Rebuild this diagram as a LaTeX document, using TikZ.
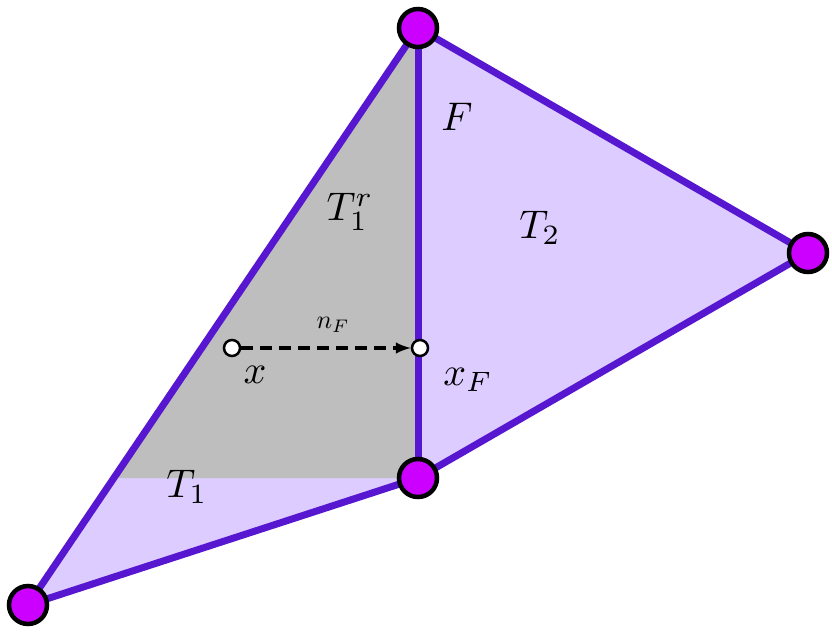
\documentclass[tikz,border=0pt]{standalone}
\begin{document}
\begin{tikzpicture}[x=1pt,y=-1pt,
  edge/.style={draw=edgec,line width=7pt,line join=round,line cap=round},
  vert/.style={circle,fill=vertc,draw=black,line width=4.5pt,minimum size=38pt,inner sep=0pt},
  pt/.style={circle,fill=white,draw=black,line width=2.5pt,minimum size=16pt,inner sep=0pt},
  lbl/.style={scale=4},
  slbl/.style={scale=2.6}]
\definecolor{edgec}{HTML}{5716D0}
\definecolor{vertc}{HTML}{CC00FF}
\definecolor{lav}{HTML}{DCCCFF}
\definecolor{grayf}{HTML}{BEBEBE}
\useasboundingbox (0,0) rectangle (832,632);
\coordinate (A) at (418,28);
\coordinate (B) at (808,253);
\coordinate (C) at (418,478);
\coordinate (D) at (28,605);
\coordinate (G) at (114,478);
\fill[lav] (A) -- (B) -- (C) -- (D) -- cycle;
\fill[grayf] (A) -- (C) -- (G) -- cycle;
\draw[edge] (A) -- (B) -- (C) -- (D) -- cycle;
\draw[edge] (A) -- (C);
\node[vert] (va) at (A) {};
\node[vert] (vb) at (B) {};
\node[vert] (vc) at (C) {};
\node[vert] (vd) at (D) {};
\node[pt] (px) at (232,348) {};
\node[pt] (pf) at (420,348) {};
\draw[black,line width=4pt,dash pattern=on 12pt off 7pt,-latex] (px) -- (pf);
\node[lbl] (lF) at (457,117) {$F$};
\node[lbl] (lTr) at (350,212) {$T_1^r$};
\node[lbl] (lT2) at (540,228) {$T_2$};
\node[slbl] (lnF) at (333,325) {$n_F$};
\node[lbl] (lx) at (255,375) {$x$};
\node[lbl] (lxF) at (468,380) {$x_F$};
\node[lbl] (lT1) at (187,487) {$T_1$};
\end{tikzpicture}
\end{document}
